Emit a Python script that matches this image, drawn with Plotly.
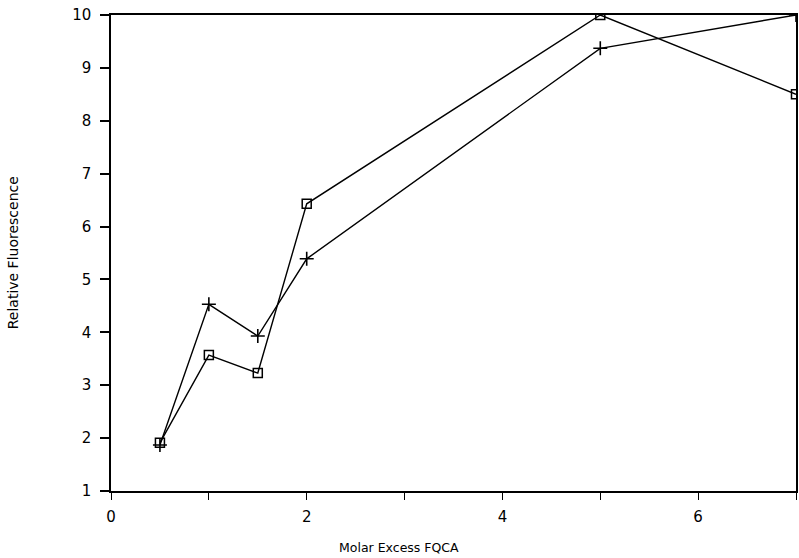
import plotly.graph_objects as go

x_vals = [0.5, 1.0, 1.5, 2.0, 5.0, 7.0]
square_series = [1.91, 3.57, 3.23, 6.43, 10.0, 8.50]
plus_series = [1.87, 4.53, 3.93, 5.39, 9.37, 10.0]

x_ticks = [0, 1, 2, 3, 4, 5, 6, 7]
x_tick_text = ["0", "", "2", "", "4", "", "6", ""]
y_ticks = [1, 2, 3, 4, 5, 6, 7, 8, 9, 10]

font_family = "DejaVu Sans, Verdana, sans-serif"

fig = go.Figure()
fig.add_trace(go.Scatter(
    x=x_vals, y=square_series, mode="lines+markers",
    line=dict(color="black", width=1.4),
    marker=dict(symbol="square-open", size=9, color="black", line=dict(width=1.5)),
    cliponaxis=True, showlegend=False,
))
fig.add_trace(go.Scatter(
    x=x_vals, y=plus_series, mode="lines+markers",
    line=dict(color="black", width=1.4),
    marker=dict(symbol="cross-thin-open", size=10, color="black", line=dict(width=1.6, color="black")),
    cliponaxis=True, showlegend=False,
))

fig.update_layout(
    width=799, height=558,
    margin=dict(l=111, r=1, t=15, b=67),
    paper_bgcolor="white", plot_bgcolor="white",
    font=dict(family=font_family, color="black"),
    xaxis=dict(
        range=[0, 7], tickvals=x_ticks, ticktext=x_tick_text,
        ticks="outside", ticklen=7, tickwidth=1.2, tickcolor="black",
        showline=True, linecolor="black", linewidth=1.5, mirror=True,
        showgrid=False, zeroline=False, ticklabelstandoff=4,
        tickfont=dict(size=15, family=font_family),
    ),
    yaxis=dict(
        range=[1, 10], tickvals=y_ticks,
        ticks="outside", ticklen=9, tickwidth=1.5, tickcolor="black",
        showline=True, linecolor="black", linewidth=1.5, mirror=True,
        showgrid=False, zeroline=False, ticklabelstandoff=6,
        tickfont=dict(size=15, family=font_family),
    ),
    annotations=[
        dict(text="Molar Excess FQCA", xref="paper", yref="paper",
             x=(400 - 111) / 687, y=-(547 - 491) / 476, xanchor="center", yanchor="middle",
             showarrow=False, font=dict(size=12.5, family=font_family)),
        dict(text="Relative Fluorescence", xref="paper", yref="paper",
             x=-(111 - 13) / 687, y=(491 - 253) / 476, xanchor="center", yanchor="middle",
             textangle=-90, showarrow=False, font=dict(size=14, family=font_family)),
    ],
)

fig.write_html(
    "out.html",
    config={"displayModeBar": False},
    post_script="document.body.style.margin='0';document.body.style.overflow='hidden';",
)
